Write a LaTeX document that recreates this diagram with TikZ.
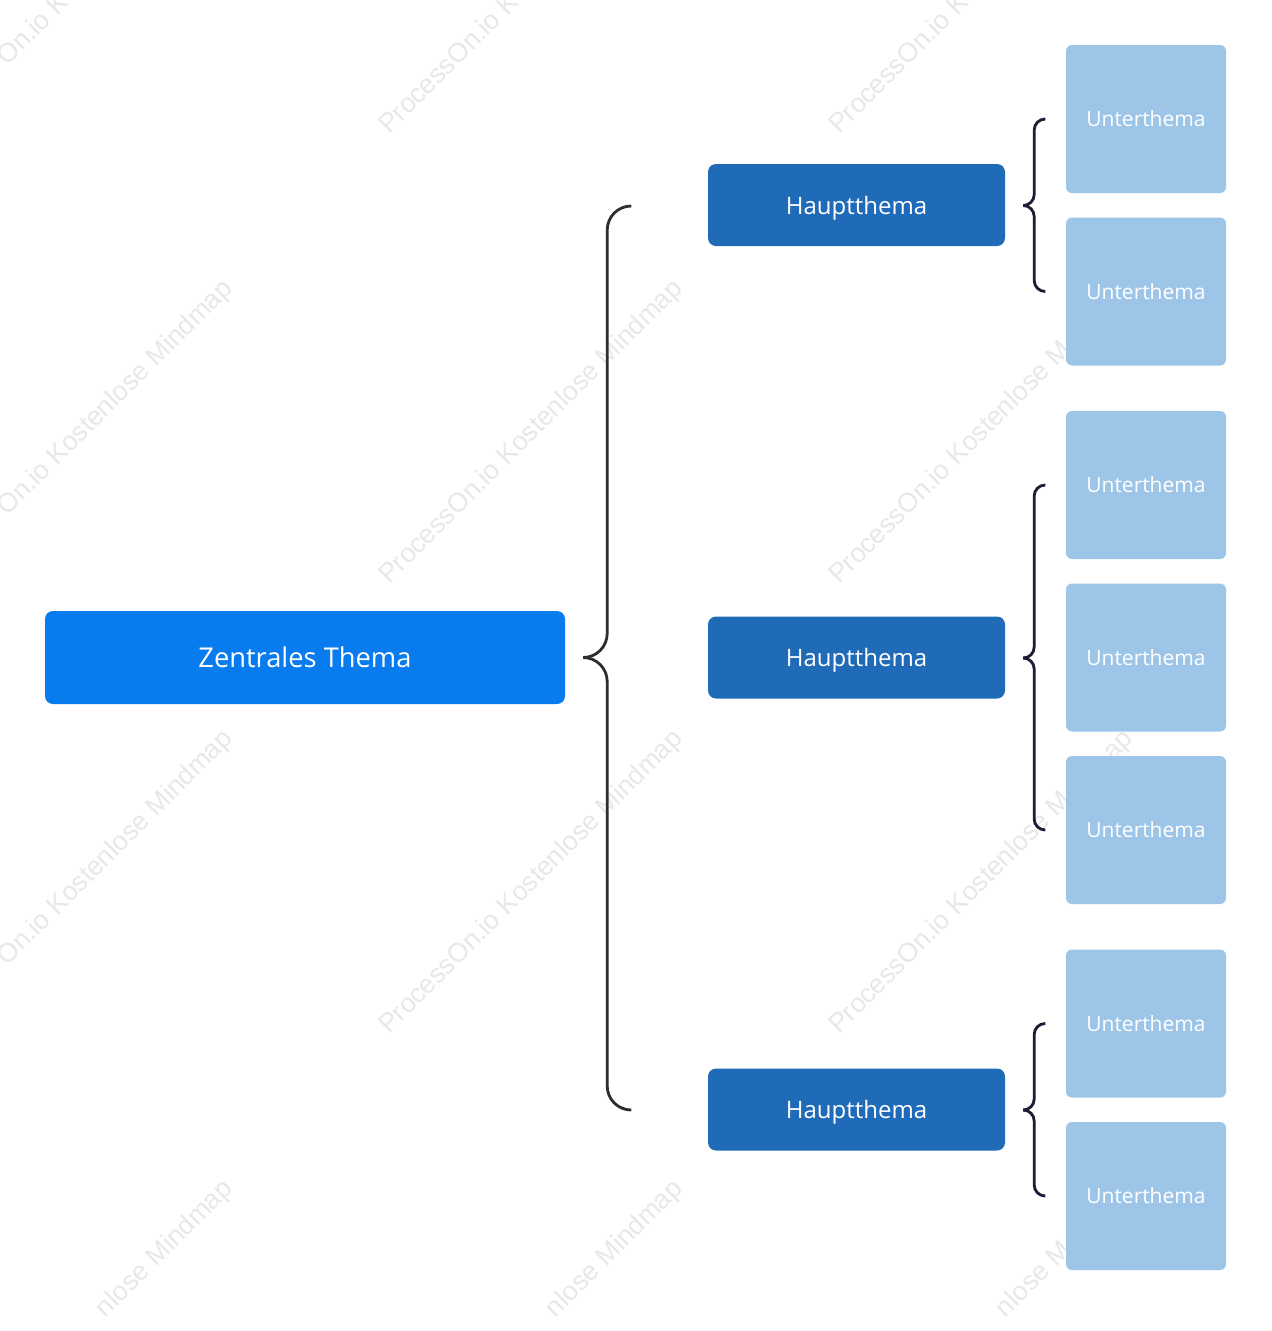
\documentclass[tikz,border=0pt]{standalone}
\usepackage{fontspec}
\setmainfont{Open Sans}
\newfontfamily\wmfont{Liberation Sans}
\usetikzlibrary{calc}
\definecolor{cZentral}{HTML}{087BEE}
\definecolor{cHaupt}{HTML}{1F6BB8}
\definecolor{cUnter}{HTML}{9DC5E8}
\definecolor{cBigBrace}{HTML}{2E2E2E}
\definecolor{cSmallBrace}{HTML}{1D1B36}
\definecolor{cWater}{HTML}{E8E8E8}
\begin{document}
\begin{tikzpicture}[x=1pt,y=-1pt,
  zentral/.style={rectangle, rounded corners=8pt, fill=cZentral, text=white,
    minimum width=520pt, minimum height=93pt, inner sep=0pt,
    font=\fontsize{27.3}{32}\selectfont},
  haupt/.style={rectangle, rounded corners=8pt, fill=cHaupt, text=white,
    minimum width=297pt, minimum height=82pt, inner sep=0pt, text depth=0pt,
    font=\fontsize{24}{28}\selectfont},
  unter/.style={rectangle, rounded corners=6pt, fill=cUnter, text=white,
    minimum width=160pt, minimum height=148pt, inner sep=0pt,
    font=\fontsize{21}{25}\selectfont},
  bigbrace/.style={draw=cBigBrace, line width=2.8pt, rounded corners=24pt},
  smallbrace/.style={draw=cSmallBrace, line width=2.8pt, rounded corners=11pt},
  watermark/.style={text=cWater, rotate=45, inner sep=0pt, anchor=base west,
    font=\wmfont\fontsize{26.7}{30}\selectfont}
]
\useasboundingbox (0,0) rectangle (1272,1331);
\fill[white] (0,0) rectangle (1272,1331);

% watermark (only the parts that are visible)
\begin{scope}
  \clip (0,0) rectangle (1272,1331);
  \foreach \n/\cx/\cy/\e/\s in {
      a/80/-18/3.612/On.io K,
      b/530/-18/0/ProcessOn.io K,
      c/980/-18/0/ProcessOn.io K,
      d/80/432/3.612/On.io Kostenlose Mindmap,
      e/530/432/0/ProcessOn.io Kostenlose Mindmap,
      f/980/432/0/ProcessOn.io Kostenlose M,
      g/80/882/3.612/On.io Kostenlose Mindmap,
      h/530/882/0/ProcessOn.io Kostenlose Mindmap,
      i/980/882/0/ProcessOn.io Kostenlose M,
      j/980/882/14.505/ap,
      k/80/1332/8.837/nlose Mindmap,
      l/530/1332/8.837/nlose Mindmap,
      m/980/1332/8.837/nlose M}{
    \node[watermark] (wm-\n) at ({\cx-141+18.88*\e},{\cy+153-18.88*\e}) {\s};
  }
\end{scope}

% nodes
\node[zentral] (Z) at (305,657.5) {Zentrales Thema};

\node[haupt] (H1) at (856.5,205) {Hauptthema};
\node[haupt] (H2) at (856.5,657.5) {Hauptthema};
\node[haupt] (H3) at (856.5,1109.5) {Hauptthema};

\node[unter] (U1) at (1146,119) {Unterthema};
\node[unter] (U2) at (1146,291.5) {Unterthema};
\node[unter] (U3) at (1146,485) {Unterthema};
\node[unter] (U4) at (1146,657.5) {Unterthema};
\node[unter] (U5) at (1146,830) {Unterthema};
\node[unter] (U6) at (1146,1023.5) {Unterthema};
\node[unter] (U7) at (1146,1196) {Unterthema};

% big brace
\coordinate (bTip) at ($(Z.east)+(18,0)$);
\coordinate (bSp) at ($(bTip)+(24,0)$);
\coordinate (bTop) at ($(H1.west)+(-77,1)$);
\coordinate (bBot) at ($(H3.west)+(-77,0.5)$);
\draw[bigbrace] (bTop) -- (bTop -| bSp) -- (bTip -| bSp) -- (bTip);
\draw[bigbrace] (bBot) -- (bBot -| bSp) -- (bTip -| bSp) -- (bTip);

% small braces
\foreach \h/\a/\b in {H1/U1/U2, H2/U3/U5, H3/U6/U7}{
  \coordinate (t-\h) at ($(\h.east)+(18,0.5)$);
  \coordinate (s-\h) at ($(t-\h)+(11,0)$);
  \coordinate (a-\h) at ($(\a.west)+(-21,0)$);
  \coordinate (b-\h) at ($(\b.west)+(-21,0)$);
  \draw[smallbrace] (a-\h) -- (a-\h -| s-\h) -- (t-\h -| s-\h) -- (t-\h);
  \draw[smallbrace] (b-\h) -- (b-\h -| s-\h) -- (t-\h -| s-\h) -- (t-\h);
}
\end{tikzpicture}
\end{document}
